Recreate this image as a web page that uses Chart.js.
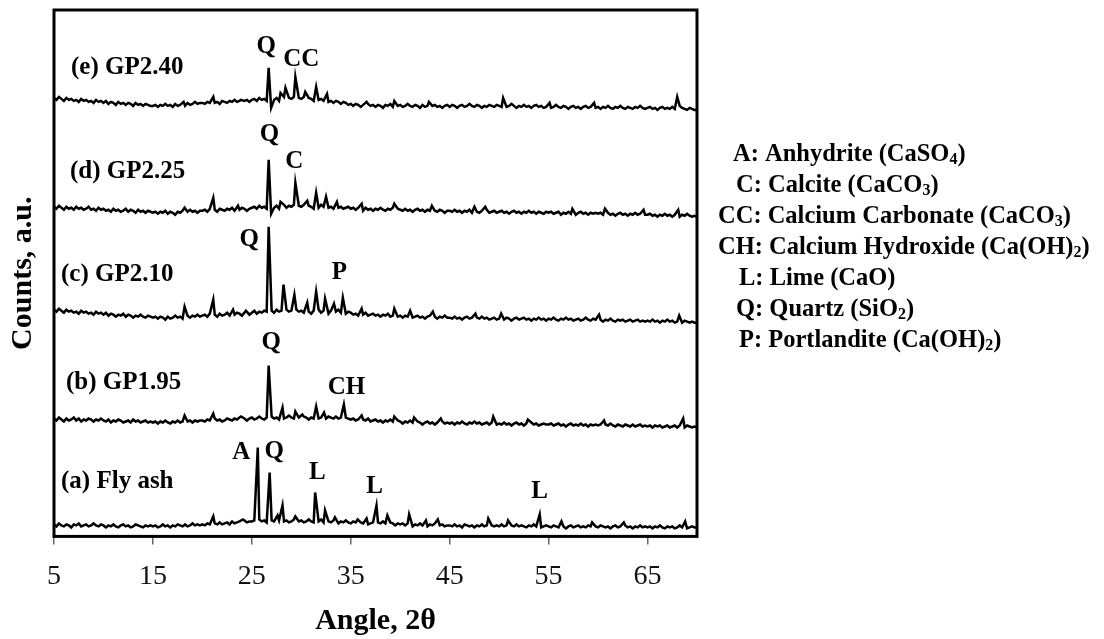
<!DOCTYPE html>
<html>
<head>
<meta charset="utf-8">
<title>XRD patterns</title>
<script src="https://cdn.jsdelivr.net/npm/chart.js@4.4.0/dist/chart.umd.min.js"></script>
<style>
  html, body { margin: 0; padding: 0; background: #fff; }
</style>
</head>
<body>
<canvas id="xrdChart" width="1104" height="639"></canvas>
<script>
// traces are sampled on a 2-theta grid from 5 to 70, step 0.25
var gridStart = 5;
var gridStep = 0.25;
var xTicks = [5, 15, 25, 35, 45, 55, 65];

var sampleNames = ['(a) Fly ash', '(b) GP1.95', '(c) GP2.10', '(d) GP2.25', '(e) GP2.40'];
// vertical shift of each pattern (stacked plot)
var sampleOffsets = [7, 108, 213, 319, 426];

// background counts, one row = 5 degrees
var flyAsh = [
  5,3,6,4,3,5,4,2,5,4,6,3,4,5,3,4,6,4,3,5,
  4,2,4,3,5,3,2,4,5,3,4,2,3,5,4,3,2,4,3,4,
  3,4,2,3,5,3,4,2,4,3,5,4,3,5,3,4,6,4,5,4,
  5,4,6,5,3,6,5,7,5,6,7,5,8,6,7,8,6,9,7,8,
  8,9,7,10,8,9,7,8,9,8,7,9,10,8,9,7,8,10,9,8,
  9,7,8,10,8,7,9,8,10,7,9,8,7,9,8,6,8,7,9,7,
  6,8,7,5,7,6,8,5,6,7,5,7,6,8,6,5,7,6,4,6,
  5,6,4,6,5,3,5,4,6,4,5,3,5,4,6,3,4,5,3,4,
  4,3,5,3,4,2,5,4,3,4,2,4,3,5,3,4,2,4,3,4,
  3,5,3,4,2,4,3,5,3,4,3,2,4,3,5,3,4,2,3,4,
  3,2,4,3,2,4,3,1,3,4,2,3,4,2,3,2,4,3,2,3,
  2,4,3,2,3,1,3,4,2,3,2,4,2,3,1,3,2,4,2,3,
  2,3,1,3,2,4,2,1,3,2,3,1,2,4,2,3,1,2,3,2,
  2
];
var gp195 = [
  10,8,11,9,7,10,8,9,11,8,10,7,9,8,10,9,7,9,8,10,
  8,7,9,6,8,7,9,8,6,7,8,6,9,7,8,6,7,8,6,7,
  6,7,5,7,6,8,6,5,7,6,8,6,7,9,7,8,6,8,7,8,
  8,7,9,8,7,10,8,9,7,8,10,9,8,10,9,11,9,10,8,10,
  11,9,10,12,10,9,11,10,12,10,11,9,12,10,11,13,11,10,12,11,
  10,12,11,9,11,10,12,10,11,13,10,12,11,10,12,10,11,9,11,10,
  9,10,8,9,7,9,8,10,7,8,9,7,8,6,8,7,9,7,6,8,
  7,5,7,6,8,6,5,7,6,4,6,7,5,6,4,6,5,7,5,6,
  5,6,4,6,5,7,5,4,6,5,7,5,6,4,5,6,4,6,5,4,
  5,4,6,4,5,3,5,6,4,5,3,5,4,6,4,5,3,4,5,4,
  4,5,3,4,5,3,4,2,4,5,3,4,3,5,3,4,2,4,3,4,
  3,4,2,4,3,5,3,2,4,3,2,4,3,2,4,2,3,4,2,3,
  2,3,1,3,2,3,1,2,3,1,2,3,1,3,2,1,3,2,1,2,
  1
];
var gp210 = [
  14,12,15,13,11,14,12,13,11,12,10,13,11,12,10,11,9,12,10,11,
  9,11,8,10,9,7,9,8,10,7,9,8,6,8,7,9,7,6,8,7,
  6,7,5,7,6,4,7,5,6,8,6,7,5,7,8,6,8,7,9,7,
  8,9,7,10,8,9,7,10,8,9,11,8,10,9,11,10,8,11,10,9,
  11,13,10,12,11,13,12,10,13,11,14,12,13,11,14,12,13,11,14,12,
  13,11,14,12,10,13,12,14,11,13,12,10,13,11,12,14,11,13,10,12,
  11,9,10,8,10,9,11,8,9,10,8,9,7,9,8,10,7,8,9,7,
  8,6,8,7,9,6,7,8,6,7,5,7,8,6,7,5,7,6,8,6,
  6,5,7,5,6,4,6,7,5,6,4,6,5,7,5,6,4,5,6,4,
  5,6,4,6,5,3,5,6,4,5,6,4,5,3,5,4,6,4,5,3,
  5,4,6,4,3,5,4,6,4,5,3,4,5,3,4,6,4,3,5,4,
  3,4,2,4,3,5,3,2,4,3,4,2,3,4,2,3,4,2,3,2,
  3,2,4,2,3,1,3,2,4,2,3,1,2,3,1,3,2,1,2,1,
  1
];
var gp225 = [
  11,9,12,10,8,11,9,10,8,11,9,10,8,9,11,8,9,7,10,8,
  9,7,8,6,9,7,8,6,7,9,6,8,7,5,8,6,7,5,7,6,
  5,6,4,6,5,7,4,6,5,3,6,5,7,5,6,8,6,7,5,7,
  7,8,6,9,7,8,6,9,8,7,9,8,10,7,9,8,10,9,7,9,
  10,11,9,12,10,11,9,12,11,10,12,9,11,13,10,12,11,13,10,12,
  11,13,10,12,11,9,12,10,13,11,12,10,11,9,12,10,11,9,10,11,
  9,10,8,10,9,7,10,8,9,7,9,8,10,8,7,9,8,10,7,9,
  8,7,9,7,8,6,8,9,7,8,6,8,7,9,7,6,8,7,5,7,
  7,6,8,6,7,5,7,6,8,5,7,6,5,7,6,8,5,6,7,5,
  6,7,5,6,4,6,7,5,6,4,6,5,7,5,6,4,6,5,4,6,
  5,6,4,5,6,3,5,4,6,4,5,3,5,6,4,5,3,5,4,5,
  4,5,3,4,5,3,4,2,4,5,3,4,2,4,3,5,3,4,2,3,
  3,4,2,3,1,3,2,4,2,3,1,3,2,1,3,2,4,2,1,2,
  1
];
var gp240 = [
  13,11,14,12,10,13,11,12,10,11,9,12,10,11,9,10,8,11,9,10,
  8,10,7,9,8,6,9,7,8,6,8,7,5,8,6,7,5,7,6,5,
  5,6,4,6,5,7,5,6,4,7,5,6,7,5,8,6,7,9,7,8,
  8,7,9,8,10,8,9,7,10,9,8,10,9,11,9,10,12,10,11,9,
  11,12,10,13,11,12,10,13,12,11,13,10,12,14,11,13,12,14,11,13,
  12,14,11,13,12,10,13,11,12,10,11,9,10,8,10,9,7,9,8,6,
  7,5,7,6,4,6,5,7,5,6,4,6,5,3,6,5,7,4,6,5,
  6,4,5,7,5,4,6,5,3,6,4,5,7,5,6,4,5,3,5,6,
  4,6,5,3,5,6,4,5,7,5,4,6,5,3,5,4,6,5,4,6,
  5,4,6,4,5,7,5,3,5,4,6,4,5,3,5,6,4,5,3,4,
  5,3,4,6,4,3,5,4,2,4,5,3,4,2,4,5,3,4,5,3,
  4,2,4,3,5,3,2,4,3,5,3,2,4,3,2,4,3,5,3,2,
  3,4,2,3,1,3,4,2,3,2,4,2,3,5,3,2,1,3,2,1,
  1
];

// reflections [2-theta, counts above background]
var flyAshPeaks = [[21.1,13],[24.1,10],[25.6,82],[26.8,57],[27.6,14],[28.1,24],[29.4,13],[31.4,37],[32.4,19],[33.4,12],
  [35.7,10],[36.6,11],[37.6,24],[38.7,14],[40.9,15],[42.6,9],[43.8,10],[48.9,11],[50.9,9],[54.1,15],[56.3,8],[59.4,7],[62.6,7],[68.8,8]];
var gp195Peaks = [[18.2,13],[21.1,15],[23.9,12],[26.7,63],[28.1,21],[29.4,17],[30.1,14],[31.5,22],[32.3,16],[34.3,24],
  [36.1,13],[39.4,12],[41.4,11],[44.1,10],[49.4,12],[52.9,9],[60.6,8],[68.6,10]];
var gp210Peaks = [[18.2,17],[21.1,24],[23.1,14],[24.4,13],[26.7,97],[28.2,39],[29.3,29],[30.6,21],[31.5,32],[32.4,25],
  [33.3,20],[34.2,26],[36.1,15],[39.4,15],[41.0,13],[43.3,12],[47.6,10],[50.2,10],[60.1,9],[68.2,8]];
var gp225Peaks = [[18.2,10],[21.1,20],[23.6,12],[26.7,58],[26.95,4],[27.9,16],[29.4,35],[30.6,17],[31.5,25],[32.5,21],
  [33.6,16],[36.1,14],[39.4,14],[43.2,12],[47.5,11],[48.6,11],[57.4,9],[60.7,9],[64.6,8],[68.1,8]];
var gp240Peaks = [[18.1,9],[21.1,14],[23.9,11],[26.7,43],[26.95,3],[27.9,18],[28.4,23],[29.4,34],[30.4,19],[31.5,24],
  [32.6,17],[36.6,9],[39.4,10],[42.9,9],[50.4,13],[55.1,8],[59.6,8],[68.0,14]];

var phaseLegend = [
  'A: Anhydrite (CaSO_4)',
  'C: Calcite (CaCO_3)',
  'CC: Calcium Carbonate (CaCO_3)',
  'CH: Calcium Hydroxide (Ca(OH)_2)',
  'L: Lime (CaO)',
  'Q: Quartz (SiO_2)',
  'P: Portlandite (Ca(OH)_2)'
];

// annotation places, in chart units [2-theta, level]
var sampleLabelAt = [[5.71, 55], [6.21, 154], [5.71, 262], [6.62, 365], [6.72, 469]];
var peakMarks = [
  { text: 'Q', at: [26.46, 490] }, { text: 'CC', at: [30.0, 477] },
  { text: 'Q', at: [26.77, 402] }, { text: 'C', at: [29.3, 375] },
  { text: 'Q', at: [24.74, 297] }, { text: 'P', at: [33.86, 264] },
  { text: 'Q', at: [26.97, 194] }, { text: 'CH', at: [34.56, 149] },
  { text: 'A', at: [23.93, 84] }, { text: 'Q', at: [27.27, 85] },
  { text: 'L', at: [31.63, 64] }, { text: 'L', at: [37.4, 50] }, { text: 'L', at: [54.1, 45] }
];

var serif = '"Liberation Serif", "Times New Roman", serif';

function buildSeries(base, peaks, offset) {
  var pts = [];
  base.forEach(function(v, i) {
    var a = gridStart + i * gridStep;
    var near = peaks.some(function(p) { return Math.abs(p[0] - a) <= 0.12; });
    if (!near) pts.push({ x: a, y: offset + v });
  });
  peaks.forEach(function(p) { pts.push({ x: p[0], y: offset + p[1] }); });
  pts.sort(function(p, q) { return p.x - q.x; });
  return pts;
}

// text with _n subscripts
function drawRich(ctx, text, x, y) {
  var parts = text.split(/_(\d)/);
  parts.forEach(function(p, k) {
    if (k % 2) {
      ctx.font = 'bold 16px ' + serif;
      ctx.fillText(p, x, y + 5);
    } else {
      ctx.font = 'bold 24.5px ' + serif;
      ctx.fillText(p, x, y);
    }
    x += ctx.measureText(p).width;
  });
}

var legendX = [733, 736, 718, 718, 739, 736, 739];
var legendTop = 155;
var legendGap = 31;

var xrdText = {
  id: 'xrdText',
  afterDraw: function(chart) {
    var ctx = chart.ctx;
    var area = chart.chartArea;
    var xs = chart.scales.x, ys = chart.scales.y;
    ctx.save();
    // frame round the plot
    ctx.strokeStyle = '#000';
    ctx.lineWidth = 3;
    ctx.strokeRect(area.left, area.top, area.right - area.left, area.bottom - area.top);

    ctx.fillStyle = '#000';
    ctx.textBaseline = 'middle';
    ctx.textAlign = 'left';
    ctx.font = 'bold 25px ' + serif;
    sampleNames.forEach(function(name, i) {
      ctx.fillText(name, xs.getPixelForValue(sampleLabelAt[i][0]), ys.getPixelForValue(sampleLabelAt[i][1]));
    });

    ctx.textAlign = 'center';
    ctx.font = 'bold 25px ' + serif;
    peakMarks.forEach(function(m) {
      ctx.fillText(m.text, xs.getPixelForValue(m.at[0]), ys.getPixelForValue(m.at[1]));
    });

    ctx.textAlign = 'left';
    phaseLegend.forEach(function(line, i) {
      drawRich(ctx, line, legendX[i], legendTop + i * legendGap);
    });
    ctx.restore();
  }
};

var traces = [
  buildSeries(flyAsh, flyAshPeaks, sampleOffsets[0]),
  buildSeries(gp195, gp195Peaks, sampleOffsets[1]),
  buildSeries(gp210, gp210Peaks, sampleOffsets[2]),
  buildSeries(gp225, gp225Peaks, sampleOffsets[3]),
  buildSeries(gp240, gp240Peaks, sampleOffsets[4])
];

var xrdChart = new Chart(document.getElementById('xrdChart').getContext('2d'), {
  type: 'line',
  data: {
    datasets: traces.map(function(pts, i) {
      return {
        label: sampleNames[i],
        data: pts,
        borderColor: '#000',
        borderWidth: 2.5,
        pointRadius: 0,
        fill: false,
        tension: 0
      };
    })
  },
  options: {
    responsive: false,
    animation: false,
    layout: { padding: { left: 7, right: 407, top: 10, bottom: 0 } },
    plugins: {
      legend: { display: false },
      tooltip: { enabled: false }
    },
    scales: {
      x: {
        type: 'linear',
        min: 5,
        max: 70,
        afterBuildTicks: function(axis) {
          axis.ticks = xTicks.map(function(v) { return { value: v }; });
        },
        ticks: { font: { family: serif, size: 28 }, color: '#111', padding: 15 },
        grid: { drawOnChartArea: false, color: '#666', tickLength: 8, lineWidth: 1.5 },
        border: { display: false },
        title: {
          display: true,
          text: 'Angle, 2θ',
          color: '#000',
          font: { family: serif, size: 30, weight: 'bold', lineHeight: 0.9 },
          padding: { top: 0, bottom: 4 }
        }
      },
      y: {
        min: 0,
        max: 527,
        ticks: { display: false },
        grid: { display: false, drawTicks: false },
        border: { display: false },
        title: {
          display: true,
          text: 'Counts, a.u.',
          color: '#000',
          font: { family: serif, size: 30, weight: 'bold', lineHeight: 1.1 },
          padding: { top: 0, bottom: 14 }
        }
      }
    }
  },
  plugins: [xrdText]
});
</script>
</body>
</html>
